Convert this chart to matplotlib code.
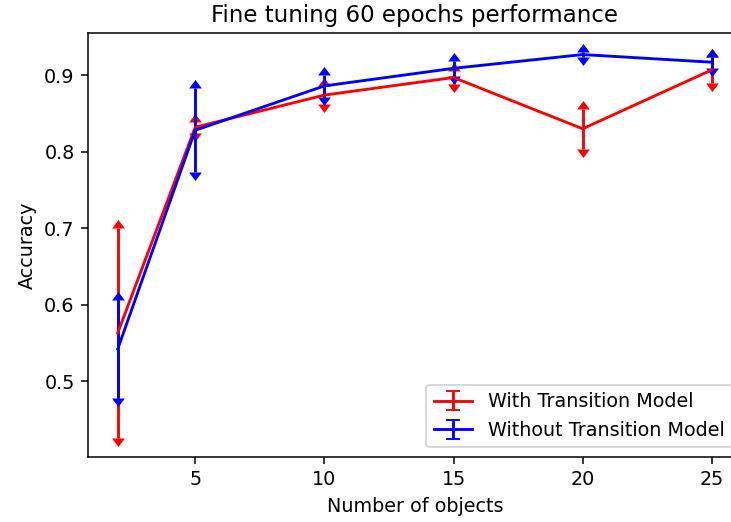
import matplotlib
matplotlib.use("Agg")
import matplotlib.pyplot as plt

# number of objects on the x axis
n_objects = [2, 5, 10, 15, 20, 25]

# accuracy, with transition model (mean and spread)
with_tm = [0.563, 0.832, 0.874, 0.897, 0.830, 0.907]
with_tm_err = [0.137, 0.007, 0.012, 0.009, 0.026, 0.017]

# accuracy, without transition model
without_tm = [0.542, 0.828, 0.886, 0.909, 0.927, 0.917]
without_tm_err = [0.064, 0.055, 0.014, 0.010, 0.003, 0.007]

# arrow heads with their base on the end of the bar
up_head = [(-0.75, 0), (0, 1), (0.75, 0)]
down_head = [(-0.75, 0), (0, -1), (0.75, 0)]

fig = plt.figure(figsize=(731 / 137.5, 522 / 137.5), dpi=137.5)
ax = fig.add_axes([0.1204, 0.1245, 0.894, 0.8123])

eb1 = ax.errorbar(n_objects, with_tm, yerr=with_tm_err, color="r", capsize=3.6,
                  label="With Transition Model")
eb2 = ax.errorbar(n_objects, without_tm, yerr=without_tm_err, color="b", capsize=3.6,
                  label="Without Transition Model")

ax.set_title("Fine tuning 60 epochs performance")
ax.set_xlabel("Number of objects")
ax.set_ylabel("Accuracy")
ax.legend(loc="lower right")

# swap the flat caps for arrow heads (after the legend, so it keeps flat caps)
for eb in (eb1, eb2):
    low_cap, high_cap = eb[1]
    low_cap.set_marker(down_head)
    high_cap.set_marker(up_head)
    for cap in (low_cap, high_cap):
        cap.set_markersize(8.9)
        cap.set_markeredgewidth(0)

fig.savefig("out.png", dpi=137.5)
